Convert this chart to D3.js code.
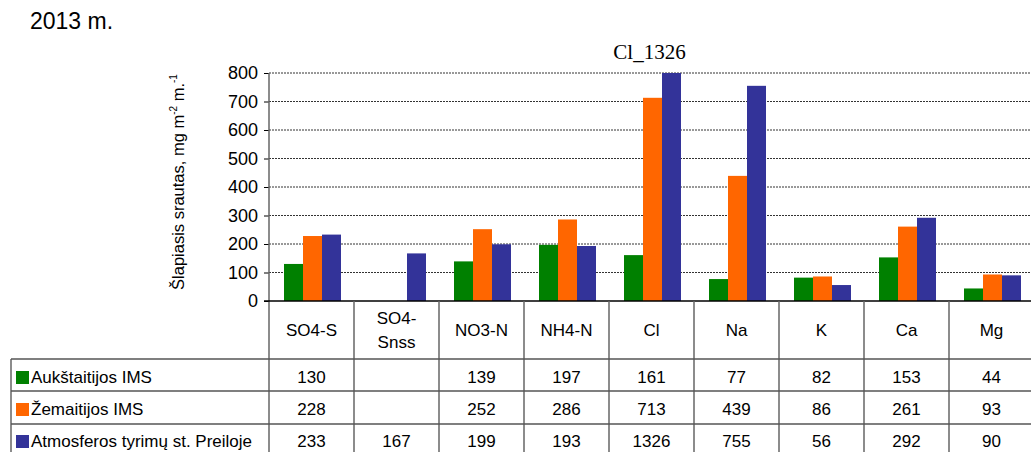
<!DOCTYPE html>
<html><head><meta charset="utf-8">
<script src="https://cdn.jsdelivr.net/npm/d3@7"></script>
<style>body{margin:0;background:#fff;} svg{display:block;font-family:"Liberation Sans",Arial,sans-serif;}</style>
</head><body>
<svg id="c" width="1031" height="452"></svg>
<script>
const categories = ["SO4-S", "SO4-\nSnss", "NO3-N", "NH4-N", "Cl", "Na", "K", "Ca", "Mg"];
const seriesNames = ["Aukštaitijos IMS", "Žemaitijos IMS", "Atmosferos tyrimų st. Preiloje"];
const aukstaitijos = [130, null, 139, 197, 161, 77, 82, 153, 44];
const zemaitijos = [228, null, 252, 286, 713, 439, 86, 261, 93];
const preila = [233, 167, 199, 193, 1326, 755, 56, 292, 90];
const seriesColors = ["#008000", "#FF6600", "#333399"];
const yTicks = [0, 100, 200, 300, 400, 500, 600, 700, 800];
const titleText = "2013 m.";
const annotation = "Cl_1326";

const series = [aukstaitijos, zemaitijos, preila];
const svg = d3.select("#c");
const x0 = 269, colW = 85;
const x = d3.scaleBand().domain(categories).range([x0, x0 + colW * categories.length]).paddingInner(0).paddingOuter(0);
const xs = d3.scaleBand().domain(seriesNames).range([15, 72]);
const y = d3.scaleLinear().domain([0, 800]).range([301, 73]);

// title
svg.append("text").attr("x", 30).attr("y", 29).attr("font-size", 23).attr("fill", "#000").text(titleText);

// grid
svg.append("g").selectAll("line").data(yTicks.filter(d => d > 0)).join("line")
  .attr("x1", x0).attr("x2", 1031).attr("y1", d => y(d)).attr("y2", d => y(d))
  .attr("stroke", "#333").attr("stroke-width", 1).attr("stroke-dasharray", "2,1");

// bars
svg.append("clipPath").attr("id", "pc").append("rect")
  .attr("x", x0).attr("y", y(800)).attr("width", 1031 - x0).attr("height", y(0) - y(800));
const gb = svg.append("g").attr("clip-path", "url(#pc)");
series.forEach((vals, si) => {
  gb.selectAll(null).data(vals.map((v, i) => ({v, c: categories[i]})).filter(d => d.v != null)).join("rect")
    .attr("x", d => x(d.c) + xs(seriesNames[si]))
    .attr("width", xs.bandwidth())
    .attr("y", d => y(Math.min(d.v, 800)))
    .attr("height", d => y(0) - y(Math.min(d.v, 800)))
    .attr("fill", seriesColors[si]);
});

// y axis
const yAxis = d3.axisLeft(y).tickValues(yTicks).tickSize(5).tickPadding(6);
const ga = svg.append("g").attr("transform", `translate(${x0},0)`).call(yAxis);
ga.select(".domain").remove();
ga.selectAll(".tick line").attr("stroke", "#000");
ga.selectAll(".tick text").attr("font-size", 18).attr("font-family", "Liberation Sans, Arial, sans-serif").attr("fill", "#000");
svg.append("line").attr("x1", x0).attr("x2", x0).attr("y1", y(800)).attr("y2", 452).attr("stroke", "#666").attr("stroke-width", 1.5);
svg.append("line").attr("x1", x0 - 5).attr("x2", 1031).attr("y1", y(0)).attr("y2", y(0)).attr("stroke", "#000").attr("stroke-width", 1.5);

// y title
const yt = svg.append("text").attr("transform", "translate(184,182) rotate(-90)").attr("text-anchor", "middle").attr("font-size", 16.5).attr("fill", "#000");
yt.append("tspan").text("Šlapiasis srautas, mg m");
yt.append("tspan").attr("dy", -7).attr("font-size", 10).text("-2");
yt.append("tspan").attr("dy", 7).text(" m.");
yt.append("tspan").attr("dy", -7).attr("font-size", 10).text("-1");

// annotation
svg.append("text").attr("x", x("Cl") + colW / 2 - 2).attr("y", 59).attr("text-anchor", "middle")
  .attr("font-family", "Liberation Serif, Times New Roman, serif").attr("font-size", 21).attr("fill", "#000").text(annotation);

// table
const rowY = [301, 359, 391, 424];
const rowBase = [383, 415, 447];
const gt = svg.append("g");
categories.forEach(c => {
  gt.append("line").attr("x1", x(c) + colW).attr("x2", x(c) + colW).attr("y1", 301).attr("y2", 452).attr("stroke", "#666").attr("stroke-width", 1.5);
});
gt.append("line").attr("x1", 11).attr("x2", 11).attr("y1", 359).attr("y2", 452).attr("stroke", "#666").attr("stroke-width", 1.5);
rowY.slice(1).forEach(ry => {
  gt.append("line").attr("x1", 11).attr("x2", 1031).attr("y1", ry).attr("y2", ry).attr("stroke", "#555").attr("stroke-width", 1.5);
});
categories.forEach(c => {
  const lines = c.split("\n");
  const cx = x(c) + colW / 2;
  const base = lines.length === 1 ? 336 : 324;
  lines.forEach((l, i) => {
    gt.append("text").attr("x", cx).attr("y", base + i * 24).attr("text-anchor", "middle").attr("font-size", 17).attr("fill", "#000").text(l);
  });
});
series.forEach((vals, si) => {
  const base = rowBase[si];
  gt.append("rect").attr("x", 16).attr("y", base - 12).attr("width", 13).attr("height", 13).attr("fill", seriesColors[si]);
  gt.append("text").attr("x", 31).attr("y", base).attr("font-size", 17).attr("fill", "#000").text(seriesNames[si]);
  vals.forEach((v, i) => {
    if (v == null) return;
    gt.append("text").attr("x", x(categories[i]) + colW / 2).attr("y", base).attr("text-anchor", "middle").attr("font-size", 17).attr("fill", "#000").text(v);
  });
});
</script>
</body></html>
